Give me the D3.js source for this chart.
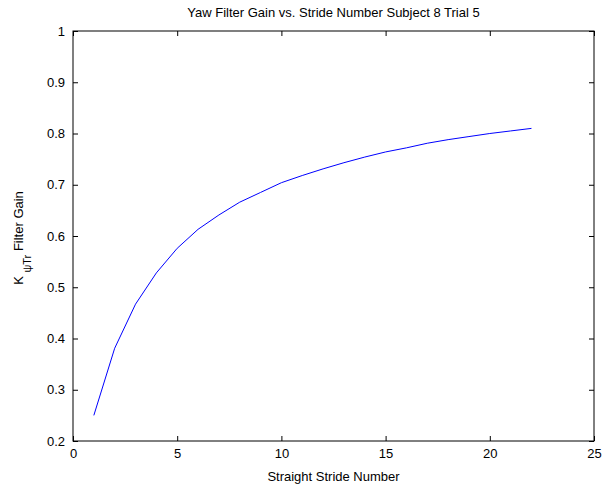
<!DOCTYPE html>
<html>
<head>
<meta charset="utf-8">
<script src="https://cdn.jsdelivr.net/npm/d3@7"></script>
<style>
  body { margin: 0; background: #fff; }
  text { font-family: Arial, "Liberation Sans", sans-serif; fill: #000; }
</style>
</head>
<body>
<div id="vis"></div>
<script>
const strides = [1, 2, 3, 4, 5, 6, 7, 8, 9, 10, 11, 12, 13, 14, 15, 16, 17, 18, 19, 20, 21, 22];
const gains = [0.250, 0.381, 0.467, 0.528, 0.576, 0.613, 0.641, 0.666, 0.685, 0.704, 0.718, 0.731,
               0.743, 0.754, 0.764, 0.772, 0.781, 0.788, 0.794, 0.800, 0.805, 0.810];
const x_ticks = [0, 5, 10, 15, 20, 25];
const y_ticks = [0.2, 0.3, 0.4, 0.5, 0.6, 0.7, 0.8, 0.9, 1];

const frame_width = 606;
const frame_height = 488;
const margins = {left: 73, right: 12, top: 31, bottom: 47};
const tick_len = 5;

const x_scale = d3.scaleLinear()
    .domain([0, 25])
    .range([margins.left, frame_width - margins.right]);

const y_scale = d3.scaleLinear()
    .domain([0.2, 1])
    .range([frame_height - margins.bottom, margins.top]);

const svg = d3.select("#vis")
  .append("svg")
    .attr("width", frame_width)
    .attr("height", frame_height);

// box + inward ticks on all four sides, matlab style
function styleAxis(g) {
  g.select(".domain").remove();
  g.selectAll(".tick line").attr("stroke", "#000").attr("stroke-width", 1);
  g.selectAll(".tick text").attr("font-size", 13).attr("font-family", "Arial, 'Liberation Sans', sans-serif");
}

svg.append("g")
    .attr("transform", "translate(0," + y_scale(0.2) + ")")
    .call(d3.axisBottom(x_scale).tickValues(x_ticks).tickSizeInner(-tick_len).tickPadding(8).tickFormat(d3.format("d")))
    .call(styleAxis);

svg.append("g")
    .attr("transform", "translate(0," + y_scale(1) + ")")
    .call(d3.axisTop(x_scale).tickValues(x_ticks).tickSizeInner(-tick_len).tickFormat(""))
    .call(styleAxis);

svg.append("g")
    .attr("transform", "translate(" + x_scale(0) + ",0)")
    .call(d3.axisLeft(y_scale).tickValues(y_ticks).tickSizeInner(-tick_len).tickPadding(8).tickFormat(d3.format("~g")))
    .call(styleAxis);

svg.append("g")
    .attr("transform", "translate(" + x_scale(25) + ",0)")
    .call(d3.axisRight(y_scale).tickValues(y_ticks).tickSizeInner(-tick_len).tickFormat(""))
    .call(styleAxis);

svg.append("rect")
    .attr("x", x_scale(0))
    .attr("y", y_scale(1))
    .attr("width", x_scale(25) - x_scale(0))
    .attr("height", y_scale(0.2) - y_scale(1))
    .attr("fill", "none")
    .attr("stroke", "#000")
    .attr("stroke-width", 1);

const line = d3.line()
    .x((d, i) => x_scale(strides[i]))
    .y((d) => y_scale(d));

svg.append("path")
    .datum(gains)
    .attr("d", line)
    .attr("fill", "none")
    .attr("stroke", "#0000ff")
    .attr("stroke-width", 1);

svg.append("text")
    .attr("x", (x_scale(0) + x_scale(25)) / 2)
    .attr("y", 17)
    .attr("text-anchor", "middle")
    .attr("font-size", 13)
    .text("Yaw Filter Gain vs. Stride Number Subject 8 Trial 5");

svg.append("text")
    .attr("x", (x_scale(0) + x_scale(25)) / 2)
    .attr("y", 481)
    .attr("text-anchor", "middle")
    .attr("font-size", 13)
    .text("Straight Stride Number");

const ylab = svg.append("text")
    .attr("transform", "translate(23," + ((y_scale(0.2) + y_scale(1)) / 2 + 2) + ") rotate(-90)")
    .attr("text-anchor", "middle")
    .attr("font-size", 13);
ylab.append("tspan").text("K ");
ylab.append("tspan").attr("dy", 8).attr("font-size", 11).text("ψTr");
ylab.append("tspan").attr("dy", -8).text(" Filter Gain");
</script>
</body>
</html>
